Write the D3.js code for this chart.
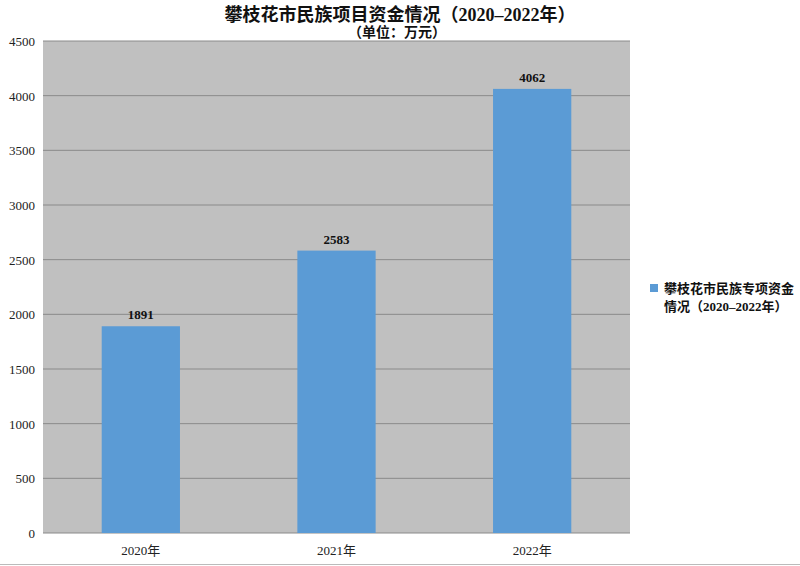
<!DOCTYPE html>
<html>
<head>
<meta charset="utf-8">
<script src="https://cdn.jsdelivr.net/npm/d3@7"></script>
<style>
  body { margin: 0; background: #fff; }
  svg { display: block; }
  text { font-family: "Liberation Serif", "Noto Sans CJK SC", serif; }
</style>
</head>
<body>
<svg id="chart"></svg>
<script>
// data
const years = ['2020年', '2021年', '2022年'];
const funds = [1891, 2583, 4062];
const yTicks = [0, 500, 1000, 1500, 2000, 2500, 3000, 3500, 4000, 4500];
const titleLines = ['攀枝花市民族项目资金情况（2020–2022年）', '（单位：万元）'];
const legendLines = ['攀枝花市民族专项资金', '情况（2020–2022年）'];

const width = 800, height = 566;
const margin = { top: 41, right: 170, bottom: 33, left: 43 };

const svg = d3.select('#chart')
    .attr('width', width)
    .attr('height', height);

const x = d3.scaleBand()
    .domain(years)
    .range([margin.left, width - margin.right])
    .paddingInner(0.6)
    .paddingOuter(0.3);

const y = d3.scaleLinear()
    .domain([0, 4500])
    .range([height - margin.bottom, margin.top]);

// plot area background
svg.append('rect')
    .attr('x', margin.left)
    .attr('y', margin.top)
    .attr('width', width - margin.right - margin.left)
    .attr('height', height - margin.bottom - margin.top)
    .attr('fill', '#c0c0c0');

// gridlines
svg.append('g')
    .selectAll('line')
    .data(yTicks)
    .enter()
    .append('line')
    .attr('x1', margin.left)
    .attr('x2', width - margin.right)
    .attr('y1', d => y(d))
    .attr('y2', d => y(d))
    .attr('stroke', '#8a8a8a')
    .attr('stroke-width', 1);

// y axis labels
svg.append('g')
    .selectAll('text')
    .data(yTicks)
    .enter()
    .append('text')
    .attr('x', margin.left - 8)
    .attr('y', d => y(d) + 5)
    .attr('text-anchor', 'end')
    .style('font-size', '13px')
    .attr('fill', '#222')
    .text(d => d);

// bars
svg.append('g')
    .selectAll('rect')
    .data(funds)
    .enter()
    .append('rect')
    .attr('x', (d, i) => x(years[i]))
    .attr('y', d => y(d))
    .attr('width', x.bandwidth())
    .attr('height', d => y(0) - y(d))
    .attr('fill', '#5b9bd5');

// value labels
svg.append('g')
    .selectAll('text')
    .data(funds)
    .enter()
    .append('text')
    .attr('x', (d, i) => x(years[i]) + x.bandwidth() / 2)
    .attr('y', d => y(d) - 7)
    .attr('text-anchor', 'middle')
    .style('font-size', '13px')
    .style('font-weight', 'bold')
    .attr('fill', '#111')
    .text(d => d);

// x labels
svg.append('g')
    .selectAll('text')
    .data(years)
    .enter()
    .append('text')
    .attr('x', d => x(d) + x.bandwidth() / 2)
    .attr('y', height - margin.bottom + 22)
    .attr('text-anchor', 'middle')
    .style('font-size', '13px')
    .attr('fill', '#222')
    .text(d => d);

// bottom border line
svg.append('line')
    .attr('x1', 0).attr('x2', width)
    .attr('y1', 564.5).attr('y2', 564.5)
    .attr('stroke', '#bbb');

// title
svg.append('text')
    .attr('x', 400)
    .attr('y', 21)
    .attr('text-anchor', 'middle')
    .style('font-size', '18px')
    .style('font-weight', 'bold')
    .attr('fill', '#111')
    .text(titleLines[0]);

svg.append('text')
    .attr('x', 397)
    .attr('y', 37)
    .attr('text-anchor', 'middle')
    .style('font-size', '14px')
    .style('font-weight', 'bold')
    .attr('fill', '#111')
    .text(titleLines[1]);

// legend
const legend = svg.append('g')
    .attr('transform', 'translate(650, 284)');

legend.append('rect')
    .attr('width', 8)
    .attr('height', 8)
    .attr('fill', '#5b9bd5');

legend.selectAll('text')
    .data(legendLines)
    .enter()
    .append('text')
    .attr('x', 14)
    .attr('y', (d, i) => 9 + i * 18)
    .style('font-size', '13px')
    .style('font-weight', 'bold')
    .attr('fill', '#111')
    .text(d => d);
</script>
</body>
</html>
